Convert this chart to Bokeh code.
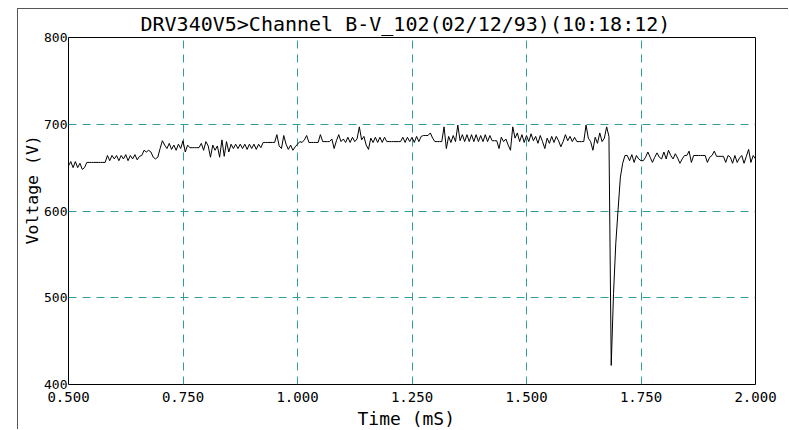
from bokeh.plotting import figure
from bokeh.models import (FixedTicker, NumeralTickFormatter, Title,
                          Range1d, ColumnDataSource)
from bokeh.embed import file_html
from bokeh.resources import INLINE

title_text = "DRV340V5>Channel B-V_102(02/12/93)(10:18:12)"
x_label = "Time (mS)"
y_label = "Voltage (V)"
x_ticks = [0.5, 0.75, 1.0, 1.25, 1.5, 1.75, 2.0]
y_ticks = [400, 500, 600, 700, 800]
x_limits = [0.5, 2.0]
y_limits = [400, 800]

t_start = 0.5
t_step = 0.005

volts_a = [652, 657, 650, 657, 650, 655, 648, 650, 656, 656,
           656, 656, 656, 656, 656, 656, 656, 664, 658, 664,
           660, 664, 658, 664, 660, 665, 658, 664, 660, 665,
           659, 663, 664, 670, 668, 670, 668, 662, 660, 662,
           672, 681, 676, 672, 678, 671, 676, 670, 677, 672,
           681, 668, 676, 673, 673, 673, 673, 673, 678, 670,
           680]
volts_b = [675, 662, 676, 670, 675, 662, 682, 663, 680, 668,
           677, 672, 677, 672, 677, 672, 677, 671, 677, 672,
           677, 671, 677, 673, 679, 679, 679, 679, 679, 679,
           688, 675, 672, 687, 677, 671, 676, 670, 674, 677,
           680, 679, 682, 687, 679, 679, 679, 679, 679, 688,
           680, 680, 680, 680, 683, 672, 681, 688, 680, 683]
volts_c = [679, 685, 679, 685, 680, 683, 697, 682, 686, 676,
           671, 684, 679, 685, 679, 685, 679, 685, 680, 680,
           680, 680, 680, 680, 680, 685, 679, 685, 680, 685,
           679, 686, 680, 686, 687, 687, 687, 690, 684, 680,
           680, 680, 680, 697, 672, 686, 679, 687, 680, 699,
           681, 688, 680, 688, 680, 688, 680, 688, 680, 687]
volts_d = [680, 688, 680, 687, 681, 681, 681, 672, 685, 680,
           683, 676, 670, 697, 684, 690, 680, 688, 679, 687,
           680, 689, 681, 686, 678, 687, 680, 672, 684, 678,
           686, 679, 686, 681, 674, 680, 688, 681, 686, 680,
           685, 680, 680, 680, 680, 699, 684, 680, 670, 685,
           678, 690, 680, 684, 697, 686, 422, 505, 563, 602,
           639, 655, 664]
volts_e = [664, 658, 665, 656, 664, 660, 658, 658, 662, 668,
           662, 656, 662, 667, 662, 660, 668, 660, 670, 664,
           660, 666, 661, 655, 660, 664, 664, 669, 656, 664,
           664, 664, 664, 664, 664, 656, 662, 664, 669, 663,
           663, 663, 663, 656, 664, 662, 655, 664, 656, 661,
           664, 655, 663, 671, 656, 664, 660]

volts = volts_a + volts_b + volts_c + volts_d + volts_e
times = [round(t_start + k * t_step, 4) for k in range(len(volts))]

src = ColumnDataSource(data=dict(t=times, v=volts))

FONT = "DejaVu Sans Mono"
GRID = "#2f9e9a"

p = figure(width=771, height=421, output_backend="svg", toolbar_location=None,
           x_range=Range1d(*x_limits), y_range=Range1d(*y_limits),
           min_border_left=50, min_border_right=34, min_border_top=28,
           min_border_bottom=45)
p.styles = {"margin-left": "17px", "margin-top": "8px",
            "border-left": "1px solid #555555", "border-top": "1px solid #555555"}
p.background_fill_color = "white"
p.border_fill_color = "white"
p.outline_line_color = "black"
p.outline_line_width = 1
p.outline_line_alpha = 1.0

p.title.text = title_text
p.title.align = "left"
p.title.offset = 72
p.title.standoff = 0
p.title.vertical_align = "top"
p.title.text_font = FONT
p.title.text_font_size = "20px"
p.title.text_font_style = "normal"
p.title.text_color = "black"

p.xaxis.ticker = FixedTicker(ticks=x_ticks)
p.xaxis.formatter = NumeralTickFormatter(format="0.000")
p.yaxis.ticker = FixedTicker(ticks=y_ticks)
for ax in (p.xaxis[0], p.yaxis[0]):
    ax.axis_line_color = None
    ax.major_tick_line_color = None
    ax.minor_tick_line_color = None
    ax.major_label_text_font = FONT
    ax.major_label_text_color = "black"
p.xaxis.major_label_text_font_size = "14px"
p.yaxis.major_label_text_font_size = "13px"
p.xaxis.major_label_standoff = 1
p.yaxis.major_tick_out = 0
p.yaxis.major_tick_in = 0
p.yaxis.major_label_standoff = 1

p.add_layout(Title(text=x_label, align="left", offset=289, standoff=3,
                   text_font=FONT, text_font_size="18px",
                   text_font_style="normal", text_color="black"), "below")
p.add_layout(Title(text=y_label, align="left", offset=140, standoff=0,
                   text_font=FONT, text_font_size="16.5px",
                   text_font_style="normal", text_color="black"), "left")

p.xgrid.ticker = FixedTicker(ticks=x_ticks[1:-1])
p.ygrid.ticker = FixedTicker(ticks=y_ticks[1:-1])
for g in (p.xgrid[0], p.ygrid[0]):
    g.grid_line_color = GRID
    g.grid_line_dash = "8 6"
    g.grid_line_width = 1

p.line("t", "v", source=src, line_color="black", line_width=1)

open("out.html", "w").write(file_html(p, INLINE))
